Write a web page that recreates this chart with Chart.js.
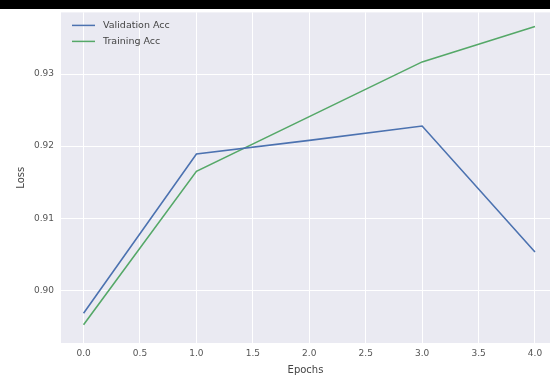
<!DOCTYPE html>
<html>
<head>
<meta charset="utf-8">
<script src="https://cdn.jsdelivr.net/npm/chart.js@4/dist/chart.umd.min.js"></script>
<style>
  html, body { margin: 0; padding: 0; background: #ffffff; overflow: hidden; }
  #wrap { width: 550px; height: 376px; position: relative; }
</style>
</head>
<body>
<div id="wrap"><canvas id="c" width="550" height="376"></canvas></div>
<script>
const epochs = [0, 1, 2, 3, 4];
const validationAcc = [0.8968, 0.9189, 0.9208, 0.9228, 0.9053];
const trainingAcc = [0.8952, 0.9165, 0.9241, 0.9317, 0.9366];
const xTicks = [0, 0.5, 1, 1.5, 2, 2.5, 3, 3.5, 4];
const yTicks = [0.90, 0.91, 0.92, 0.93];
const seriesLabels = ['Validation Acc', 'Training Acc'];

const pts = (ys) => epochs.map((e, i) => ({ x: e, y: ys[i] }));

const bgPlugin = {
  id: 'bg',
  beforeDraw(chart) {
    const { ctx, chartArea: a } = chart;
    ctx.save();
    ctx.fillStyle = '#ffffff';
    ctx.fillRect(0, 0, chart.width, chart.height);
    ctx.fillStyle = '#EAEAF2';
    ctx.fillRect(a.left, a.top, a.right - a.left, a.bottom - a.top);
    ctx.fillStyle = '#000000';
    ctx.fillRect(0, 0, chart.width, 9);
    ctx.restore();
  }
};

const legendPlugin = {
  id: 'inlegend',
  afterDatasetsDraw(chart) {
    const { ctx, chartArea: a } = chart;
    ctx.save();
    ctx.font = '9.5px "DejaVu Sans", sans-serif';
    ctx.textBaseline = 'middle';
    chart.data.datasets.forEach((ds, i) => {
      const y = a.top + 13 + i * 16;
      ctx.strokeStyle = ds.borderColor;
      ctx.lineWidth = 1.5;
      ctx.beginPath();
      ctx.moveTo(a.left + 11, y);
      ctx.lineTo(a.left + 34, y);
      ctx.stroke();
      ctx.fillStyle = '#444444';
      ctx.fillText(ds.label, a.left + 42, y);
    });
    ctx.restore();
  }
};

new Chart(document.getElementById('c'), {
  type: 'line',
  data: {
    datasets: [
      { label: seriesLabels[0], data: pts(validationAcc), borderColor: '#4C72B0', backgroundColor: '#4C72B0', borderWidth: 1.6, pointRadius: 0, tension: 0, fill: false },
      { label: seriesLabels[1], data: pts(trainingAcc), borderColor: '#55A868', backgroundColor: '#55A868', borderWidth: 1.6, pointRadius: 0, tension: 0, fill: false }
    ]
  },
  options: {
    responsive: false,
    animation: false,
    layout: { padding: { top: 11, right: 0, left: 15, bottom: 0 } },
    plugins: { legend: { display: false }, tooltip: { enabled: false } },
    scales: {
      x: {
        type: 'linear',
        min: -0.2,
        max: 4.133,
        afterBuildTicks(s) { s.ticks = xTicks.map(v => ({ value: v })); },
        afterFit(s) { s.height = 33; },
        ticks: { color: '#555555', font: { size: 9, family: '"DejaVu Sans", sans-serif' }, padding: 5, maxRotation: 0, autoSkip: false, callback: v => Number(v).toFixed(1) },
        grid: { color: '#ffffff', lineWidth: 1, drawTicks: false },
        border: { display: false },
        title: { display: true, text: 'Epochs', color: '#444444', font: { size: 10, family: '"DejaVu Sans", sans-serif' }, padding: { top: 1, bottom: 0 } }
      },
      y: {
        min: 0.89267,
        max: 0.93857,
        afterBuildTicks(s) { s.ticks = yTicks.map(v => ({ value: v })); },
        afterFit(s) { s.width = 46; },
        ticks: { color: '#555555', font: { size: 9, family: '"DejaVu Sans", sans-serif' }, padding: 7, autoSkip: false, callback: v => Number(v).toFixed(2) },
        grid: { color: '#ffffff', lineWidth: 1, drawTicks: false },
        border: { display: false },
        title: { display: true, text: 'Loss', color: '#444444', font: { size: 10, family: '"DejaVu Sans", sans-serif' }, padding: { top: 0, bottom: 6 } }
      }
    }
  },
  plugins: [bgPlugin, legendPlugin]
});
</script>
</body>
</html>
